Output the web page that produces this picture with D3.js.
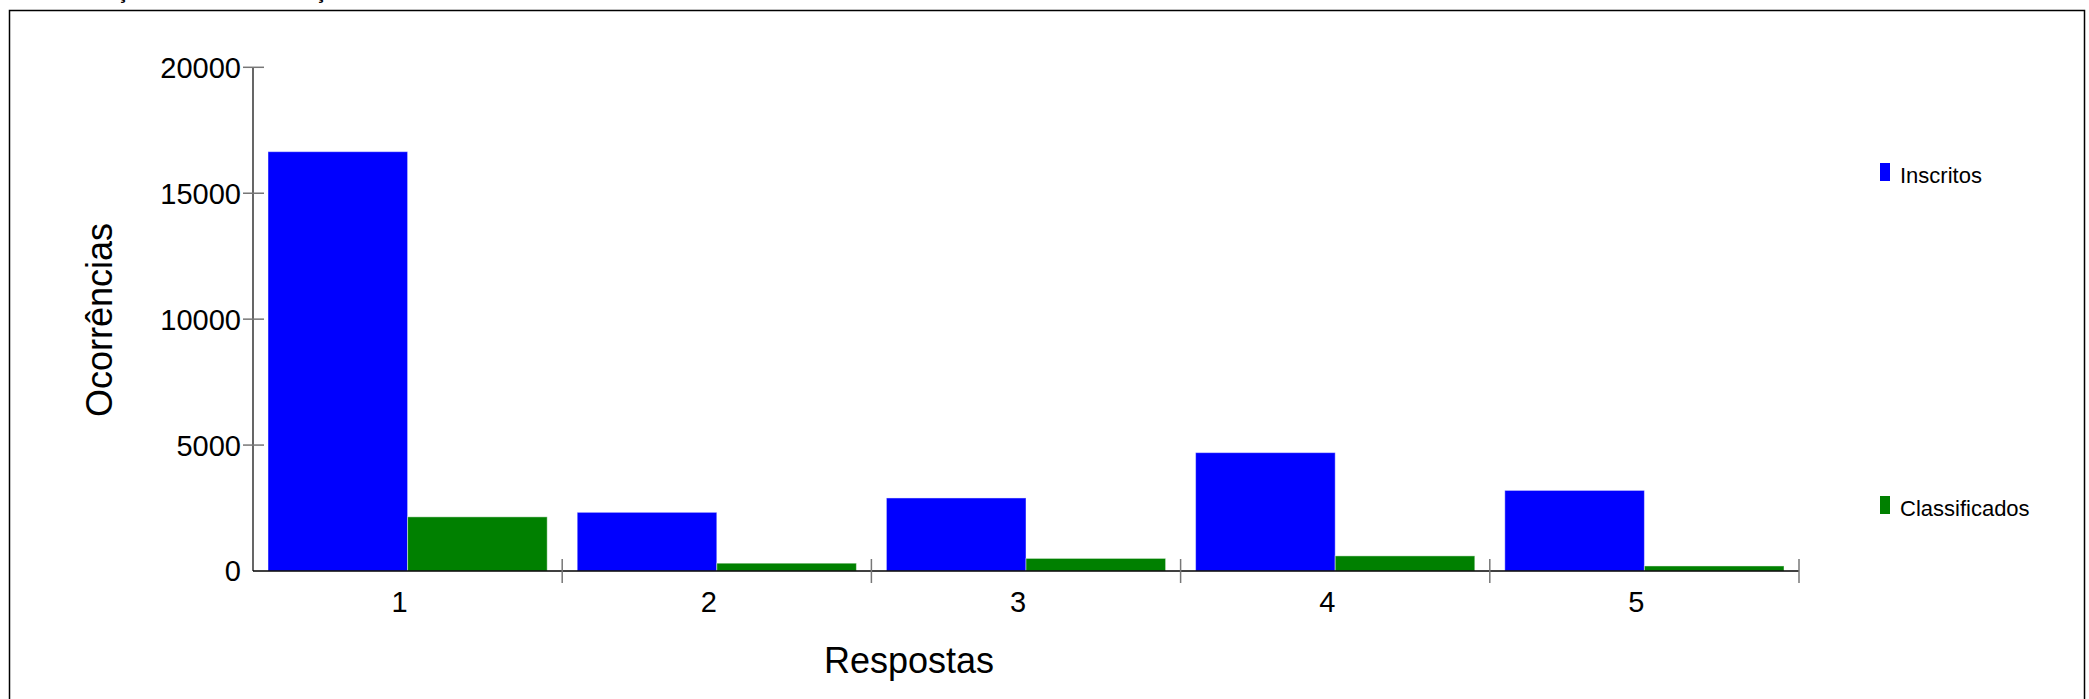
<!DOCTYPE html>
<html>
<head>
<meta charset="utf-8">
<script src="https://cdn.jsdelivr.net/npm/d3@7/dist/d3.min.js"></script>
<style>
  html, body { margin: 0; padding: 0; background: #fff; }
  svg { display: block; font-family: "Liberation Sans", Arial, sans-serif; }
</style>
</head>
<body>
<svg id="chart" width="2089" height="699"></svg>
<script>
// ---- data ----
const categories = ["1", "2", "3", "4", "5"];
const seriesNames = ["Inscritos", "Classificados"];
const inscritos = [16650, 2330, 2900, 4700, 3200];
const classificados = [2150, 310, 500, 600, 200];
const yTicks = [0, 5000, 10000, 15000, 20000];
const colors = ["#0000ff", "#008000"];
const chartTitle = "DISTRIBUIÇÃO DA PARTICIPAÇÃO POR RESPOSTA E GRUPO";
const xTitle = "Respostas";
const yTitle = "Ocorrências";

const seriesValues = [inscritos, classificados];
const rows = categories.map((c, i) => ({ cat: c, vals: seriesNames.map((s, j) => ({ s, j, v: seriesValues[j][i] })) }));

const svg = d3.select("#chart");

// title (clipped at the top edge, as in the reference)
svg.append("text").attr("x", 10).attr("y", -1)
  .attr("font-size", 21).attr("font-weight", "bold").attr("fill", "#000")
  .text(chartTitle);

// frame
svg.append("rect").attr("x", 9.5).attr("y", 10.5).attr("width", 2075).attr("height", 720)
  .attr("fill", "none").attr("stroke", "#000").attr("stroke-width", 1.5);

const x0 = 253, x1 = 1799, yTop = 67.3, yBase = 571;
const x = d3.scaleBand().domain(categories).range([x0, x1]).paddingInner(0).paddingOuter(0);
const bw = x.bandwidth();
const xs = d3.scaleBand().domain(seriesNames).range([15, bw - 15]).padding(0);
const y = d3.scaleLinear().domain([0, 20000]).range([yBase, yTop]);

// bars
const g = svg.append("g");
g.selectAll("g.grp").data(rows).join("g").attr("class", "grp")
  .attr("transform", d => `translate(${x(d.cat)},0)`)
  .selectAll("rect").data(d => d.vals).join("rect")
  .attr("x", d => xs(d.s))
  .attr("y", d => y(d.v))
  .attr("width", xs.bandwidth())
  .attr("height", d => yBase - y(d.v))
  .attr("fill", d => colors[d.j])
  .attr("stroke", "rgba(255,255,255,0.45)")
  .attr("stroke-width", 1);

// y axis line
svg.append("line").attr("x1", x0).attr("x2", x0).attr("y1", y(20000)).attr("y2", yBase)
  .attr("stroke", "#000").attr("stroke-width", 1.2);
// y ticks
svg.selectAll("line.yt").data(yTicks.filter(t => t > 0)).join("line").attr("class", "yt")
  .attr("x1", x0 - 10).attr("x2", x0 + 11)
  .attr("y1", d => y(d)).attr("y2", d => y(d))
  .attr("stroke", "#777").attr("stroke-width", 1.5);
svg.selectAll("text.yl").data(yTicks).join("text").attr("class", "yl")
  .attr("x", x0 - 12).attr("y", d => y(d)).attr("dy", "0.36em")
  .attr("text-anchor", "end").attr("font-size", 29).attr("fill", "#000")
  .text(d => d);

// x axis line
svg.append("line").attr("x1", x0).attr("x2", x1).attr("y1", yBase).attr("y2", yBase)
  .attr("stroke", "#000").attr("stroke-width", 1.5);
// x ticks at band ends
svg.selectAll("line.xt").data(categories).join("line").attr("class", "xt")
  .attr("x1", d => x(d) + bw).attr("x2", d => x(d) + bw)
  .attr("y1", yBase - 12).attr("y2", yBase + 12)
  .attr("stroke", "#777").attr("stroke-width", 1.5);
svg.selectAll("text.xl").data(categories).join("text").attr("class", "xl")
  .attr("x", d => x(d) + bw / 2 - 8).attr("y", 612)
  .attr("text-anchor", "middle").attr("font-size", 29).attr("fill", "#000")
  .text(d => d);

// axis titles
svg.append("text").attr("x", 909).attr("y", 673).attr("text-anchor", "middle")
  .attr("font-size", 36).attr("fill", "#000").text(xTitle);
svg.append("text").attr("transform", "translate(112,320) rotate(-90)")
  .attr("text-anchor", "middle").attr("font-size", 36).attr("fill", "#000").text(yTitle);

// legend
const legendY = [163, 496];
const lg = svg.selectAll("g.lg").data(seriesNames).join("g").attr("class", "lg")
  .attr("transform", (d, i) => `translate(1880,${legendY[i]})`);
lg.append("rect").attr("width", 10).attr("height", 18).attr("fill", (d, i) => colors[i]);
lg.append("text").attr("x", 20).attr("y", 20).attr("font-size", 22).attr("fill", "#000").text(d => d);
</script>
</body>
</html>
